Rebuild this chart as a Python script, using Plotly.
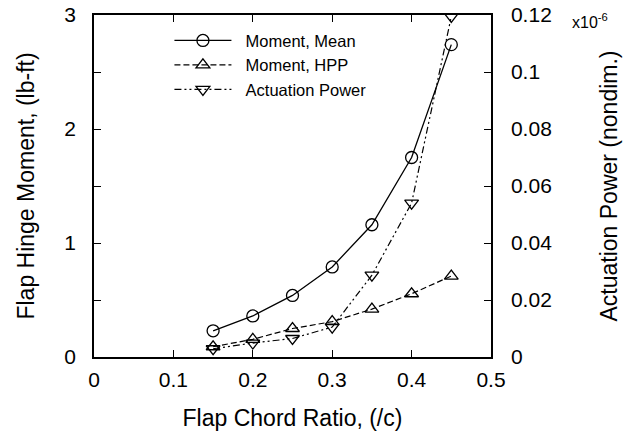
import plotly.graph_objects as go

chord_ratio = [0.15, 0.20, 0.25, 0.30, 0.35, 0.40, 0.45]
moment_mean = [0.23, 0.36, 0.54, 0.79, 1.16, 1.75, 2.74]
moment_hpp = [0.09, 0.155, 0.25, 0.31, 0.42, 0.555, 0.71]
act_power = [0.0029, 0.0049, 0.0065, 0.0105, 0.0287, 0.054, 0.1195]

left_ticks = [0, 0.5, 1, 1.5, 2, 2.5, 3]
left_ticktext = ["0", "", "1", "", "2", "", "3"]

FONT = "Liberation Sans, Arial, sans-serif"
NB = "\u00a0\u00a0"

fig = go.Figure()
fig.add_trace(go.Scatter(
    x=chord_ratio, y=moment_mean, name=NB + "Moment, Mean", mode="lines+markers",
    line=dict(color="black", width=1.3),
    marker=dict(symbol="circle-open", size=12, color="black", line=dict(width=1.3)),
))
fig.add_trace(go.Scatter(
    x=chord_ratio, y=moment_hpp, name=NB + "Moment, HPP", mode="lines+markers",
    line=dict(color="black", width=1.2, dash="6px,3px"),
    marker=dict(symbol="triangle-up-open", size=12, color="black", line=dict(width=1.3)),
))
fig.add_trace(go.Scatter(
    x=chord_ratio, y=act_power, name=NB + "Actuation Power", mode="lines+markers",
    yaxis="y2",
    line=dict(color="black", width=1.2, dash="7px,3px,2px,3px,2px,3px"),
    marker=dict(symbol="triangle-down-open", size=12, color="black", line=dict(width=1.3)),
))

axis_common = dict(
    showline=True, linecolor="black", linewidth=1.5,
    ticks="inside", ticklen=7, tickcolor="black", tickwidth=1.2,
    showgrid=False, zeroline=False, automargin=False,
    tickfont=dict(family=FONT, size=21, color="black"),
)

fig.update_layout(
    width=632, height=436,
    margin=dict(l=94, r=141, t=15, b=79),
    paper_bgcolor="white", plot_bgcolor="white",
    font=dict(family=FONT, color="black"),
    xaxis=dict(
        **axis_common, range=[0, 0.5], dtick=0.1, tick0=0, mirror="ticks",
        ticklabelstandoff=3,
        title=dict(text="Flap Chord Ratio, (/c)", font=dict(size=23), standoff=20),
    ),
    yaxis=dict(
        **axis_common, range=[0, 3], tickvals=left_ticks, ticktext=left_ticktext,
        ticklabelstandoff=12,
        title=dict(text="Flap Hinge Moment, (lb-ft)", font=dict(size=23), standoff=23),
    ),
    yaxis2=dict(
        **axis_common, range=[0, 0.12], dtick=0.02, overlaying="y", side="right",
        ticklabelstandoff=14,
        title=dict(text="Actuation Power (nondim.)", font=dict(size=23), standoff=50),
    ),
    legend=dict(
        x=0.19, y=0.976, xanchor="left", yanchor="top",
        bgcolor="rgba(0,0,0,0)", borderwidth=0,
        font=dict(family=FONT, size=16.5, color="black"),
        itemwidth=57, tracegroupgap=0,
    ),
    showlegend=True,
)

fig.add_annotation(
    text="x10<sup>-6</sup>", xref="paper", yref="paper", x=1.2, y=0.982,
    xanchor="left", yanchor="middle", showarrow=False,
    font=dict(family=FONT, size=16, color="black"),
)

fig.write_html("out.html")
